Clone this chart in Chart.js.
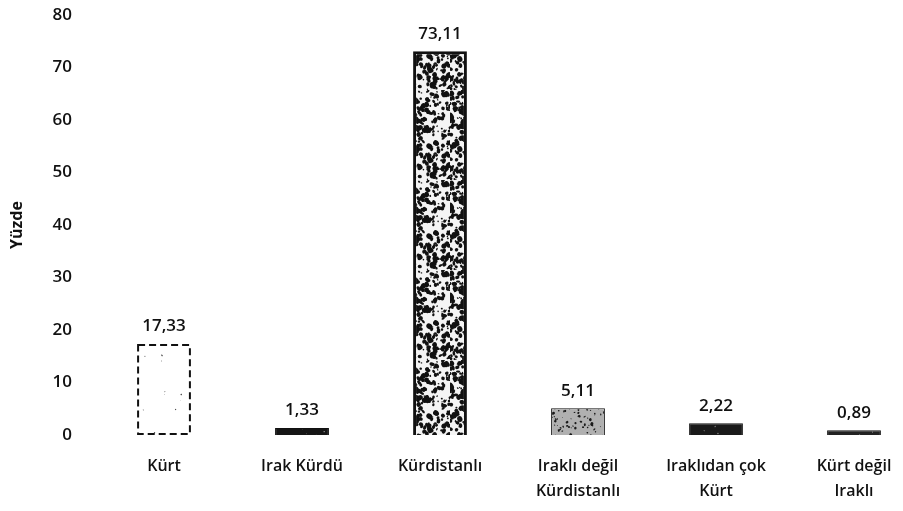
<!DOCTYPE html>
<html lang="tr">
<head>
  <meta charset="UTF-8">
  <title>Yüzde</title>
  <script src="https://cdn.jsdelivr.net/npm/chart.js"></script>
  <style>
    html, body { margin: 0; padding: 0; background: #fff; overflow: hidden; }
    .chart-container { width: 903px; height: 511px; }
  </style>
</head>
<body>
  <div class="chart-container">
    <canvas id="yuzdeChart"></canvas>
  </div>

<script>
const kategoriler = [['Kürt'], ['Irak Kürdü'], ['Kürdistanlı'], ['Iraklı değil', 'Kürdistanlı'], ['Iraklıdan çok', 'Kürt'], ['Kürt değil', 'Iraklı']];
const yuzdeler = [17.33, 1.33, 73.11, 5.11, 2.22, 0.89];
const yTicks = [0, 10, 20, 30, 40, 50, 60, 70, 80];

Chart.defaults.font.family = '"Open Sans", sans-serif';
Chart.defaults.color = '#111';

// benekli doku (sabit tohumlu, sadece görünüm için)
function doku(seed, adet, zemin, leke, rMin, rMax) {
  const n = 90;
  const c = document.createElement('canvas');
  c.width = n; c.height = n;
  const g = c.getContext('2d');
  let s = seed;
  const rnd = () => { s = (s * 16807) % 2147483647; return s / 2147483647; };
  g.fillStyle = zemin;
  g.fillRect(0, 0, n, n);
  g.fillStyle = leke;
  for (let i = 0; i < adet; i++) {
    const x = rnd() * n, y = rnd() * n, r = rMin + rnd() * (rMax - rMin);
    g.beginPath();
    g.ellipse(x, y, r, r * (0.5 + rnd()), rnd() * Math.PI, 0, Math.PI * 2);
    g.fill();
  }
  return g.createPattern(c, 'repeat');
}

const dokular = [
  doku(11, 14, '#ffffff', '#444', 0.3, 0.8),
  doku(23, 40, '#151515', '#aaa', 0.4, 1.0),
  doku(37, 560, '#f4f4f4', '#111', 0.6, 2.7),
  doku(41, 340, '#b0b0b0', '#1a1a1a', 0.4, 1.5),
  doku(53, 40, '#1a1a1a', '#777', 0.4, 1.0),
  doku(67, 10, '#222', '#888', 0.3, 0.8)
];
const kenarlar = [0, 1, 3, 1, 1, 1];

const veriEtiketleri = {
  id: 'veriEtiketleri',
  afterDatasetsDraw(chart) {
    const ctx = chart.ctx;
    const meta = chart.getDatasetMeta(0);
    ctx.save();
    // Kürt çubuğu kesikli çerçeve
    const b = meta.data[0];
    ctx.strokeStyle = '#111';
    ctx.lineWidth = 2;
    ctx.setLineDash([7, 4]);
    ctx.strokeRect(b.x - b.width / 2 + 1, b.y + 1, b.width - 2, b.base - b.y - 2);
    ctx.setLineDash([]);
    ctx.fillStyle = '#111';
    ctx.font = '600 17px "Open Sans", sans-serif';
    ctx.textAlign = 'center';
    ctx.textBaseline = 'bottom';
    meta.data.forEach((el, i) => {
      ctx.fillText(yuzdeler[i].toFixed(2).replace('.', ','), el.x, el.y - 9);
    });
    ctx.restore();
  }
};

new Chart(document.getElementById('yuzdeChart'), {
  type: 'bar',
  data: {
    labels: kategoriler,
    datasets: [{
      data: yuzdeler,
      backgroundColor: dokular,
      borderColor: '#111',
      borderWidth: kenarlar,
      barPercentage: 0.39,
      categoryPercentage: 1,
      clip: false
    }]
  },
  options: {
    responsive: true,
    maintainAspectRatio: false,
    animation: false,
    layout: { padding: { top: 15, right: 49, left: 0, bottom: 0 } },
    plugins: { legend: { display: false }, tooltip: { enabled: false } },
    scales: {
      x: {
        offset: false,
        grid: { display: false, drawTicks: false },
        border: { display: false },
        ticks: { padding: 19, font: { size: 16, weight: '600', lineHeight: 1.56 }, maxRotation: 0, autoSkip: false },
        afterFit(scale) {
          scale.height = 76;
          scale.paddingLeft = 0;
          scale.paddingRight = 0;
        }
      },
      y: {
        min: 0,
        max: 80,
        grid: { display: false, drawTicks: false },
        border: { display: false },
        afterBuildTicks(scale) { scale.ticks = yTicks.map(v => ({ value: v })); },
        ticks: { padding: 92, font: { size: 17, weight: '600' } },
        title: { display: true, text: 'Yüzde', font: { size: 16, weight: 'bold' }, padding: { top: 8 } },
        afterFit(scale) {
          scale.width = 164;
          scale.paddingTop = 0;
          scale.paddingBottom = 0;
        }
      }
    }
  },
  plugins: [veriEtiketleri]
});
</script>
</body>
</html>
